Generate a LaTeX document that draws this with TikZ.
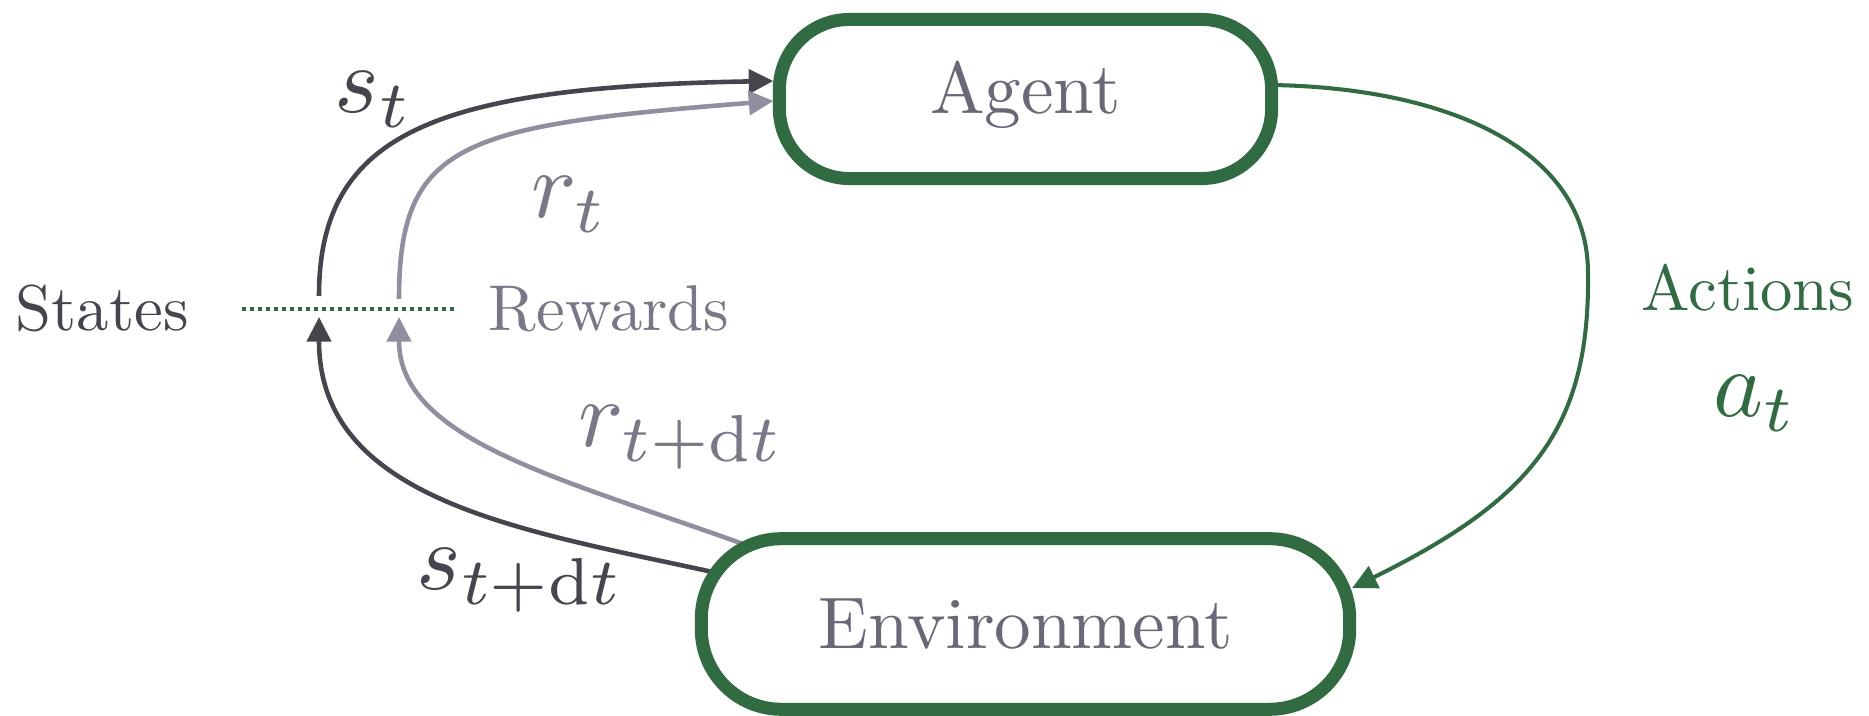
\documentclass[tikz,border=0pt]{standalone}
\usepackage{graphicx}
\usetikzlibrary{arrows.meta,calc,backgrounds}
\definecolor{rlgreen}{RGB}{48,107,66}
\definecolor{darkgr}{RGB}{70,69,78}
\definecolor{lightgr}{RGB}{145,142,160}
\definecolor{labgr}{RGB}{122,119,135}
\definecolor{boxtext}{RGB}{106,104,118}
\newcommand{\boxlbl}[1]{\scalebox{2.08}{#1}}
\newcommand{\sidelbl}[1]{\scalebox{1.84}{#1}}
\newcommand{\mathlbl}[1]{\scalebox{2.7}{#1}}
\begin{document}
\begin{tikzpicture}[x=0.01cm,y=-0.01cm,
  boxnode/.style={draw=rlgreen,line width=3.7pt,fill=white,rounded corners=#1,
    inner sep=0pt,outer sep=0pt,text=boxtext},
  sidetext/.style={inner sep=0pt,anchor=base west},
  mathlab/.style={inner sep=0pt,anchor=base west},
  flowdark/.style={draw=darkgr,line width=1.3pt,-{Triangle[length=7pt,width=6.8pt]}},
  flowlight/.style={draw=lightgr,line width=1.3pt,-{Triangle[length=7pt,width=6.8pt]}},
  flowgreen/.style={draw=rlgreen,line width=1.15pt,-{Triangle[length=7pt,width=6.8pt]}},
  divider/.style={draw=rlgreen,line width=1.25pt,dash pattern=on 1.14pt off 1.14pt}
]
\useasboundingbox (0,0) rectangle (1869,716);

\node[boxnode=0.7cm,minimum width=4.92cm,minimum height=1.59cm,text depth=6.8pt] (agent) at (1025.5,99) {\boxlbl{Agent}};
\node[boxnode=0.8cm,minimum width=6.48cm,minimum height=1.705cm,text depth=0pt] (env) at (1025.5,624) {\boxlbl{Environment}};

\node[sidetext,text=darkgr] (states) at (15,331) {\sidelbl{States}};
\node[sidetext,text=labgr] (rewards) at (488,331) {\sidelbl{Rewards}};
\node[sidetext,text=rlgreen] (actions) at (1641,311) {\sidelbl{Actions}};

\node[mathlab,text=darkgr] (st) at (334,113) {\mathlbl{$s_t$}};
\node[mathlab,text=labgr] (rt) at (531,218) {\mathlbl{$r_t$}};
\node[mathlab,text=labgr] (rtdt) at (578,447) {\mathlbl{$r_{t+\mathrm{d}t}$}};
\node[mathlab,text=darkgr] (stdt) at (416,590) {\mathlbl{$s_{t+\mathrm{d}t}$}};
\node[mathlab,text=rlgreen] (at) at (1713,417) {\mathlbl{$a_t$}};

\coordinate (sfoot) at (319,296);
\coordinate (stip) at (319,317);
\coordinate (rfoot) at (399,299);
\coordinate (rtip) at (399,317);
\coordinate (dl) at (242,309);
\coordinate (dr) at (457,309);
\coordinate (actmid) at (1588,273);

\begin{scope}[on background layer]
\draw[flowdark] (sfoot) .. controls +(0,-164) and +(-336.5,6) .. ($(agent.west)+(-6,-18)$);
\draw[flowlight] (rfoot) .. controls +(0,-158) and +(-309.5,24.7) .. ($(agent.west)+(-6,2)$);
\draw[flowdark] ($(env.center)+(-313,-52)$) .. controls +(-192,-42) and +(0,183) .. (stip);
\draw[flowlight] ($(env.center)+(-279.5,-79)$) .. controls +(-186,-67) and +(0,123) .. (rtip);
\draw[flowgreen] ($(agent.east)+(0,-14)$) .. controls +(178,3) and +(0,-123) .. (actmid)
  .. controls +(2,157) and +(178,-88) .. ($(env.east)+(2.5,-36)$);
\end{scope}
\draw[divider] (dl) -- (dr);
\end{tikzpicture}
\end{document}
